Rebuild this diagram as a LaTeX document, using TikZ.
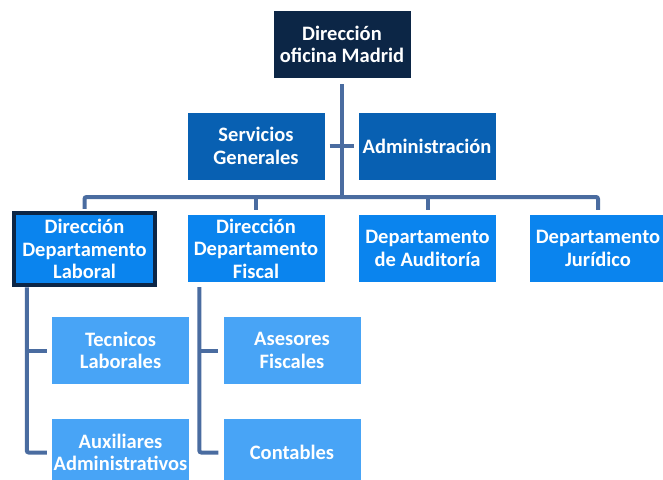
\documentclass[tikz,border=0pt]{standalone}
\usepackage{fontspec}
\setmainfont{Carlito}
\usepackage{tikz}
\definecolor{navy}{HTML}{0C2646}
\definecolor{staffblue}{HTML}{0860B2}
\definecolor{deptblue}{HTML}{0A84EE}
\definecolor{unitblue}{HTML}{48A4F6}
\definecolor{linkblue}{HTML}{4A6CA0}

\begin{document}
\begin{tikzpicture}[x = 1pt, y = -1pt,
                        box/.style = {rectangle, minimum width = 137pt, minimum height = 67pt, inner sep = 0pt,
                                      align = center, text = white, font = \fontsize{20.5}{22.5}\selectfont\bfseries},
                        chief/.style = {box, fill = navy},
                        staff/.style = {box, fill = staffblue},
                        dept/.style = {box, fill = deptblue},
                        unit/.style = {box, fill = unitblue},
                        link/.style = {draw = linkblue, line width = 4pt, rounded corners = 2pt}]
      \useasboundingbox (0, 0) rectangle (663, 479);
      \node [chief] (madrid) at (342, 44.5){Dirección\\oficina Madrid};
      \node [staff] (servicios) at (256, 146){Servicios\\Generales};
      \node [staff] (admin) at (427, 146){Administración};
      \node [dept, draw = navy, line width = 4.5pt, minimum width = 141pt, minimum height = 72pt] (laboral) at (84.5, 249){Dirección\\Departamento\\Laboral};
      \node [dept] (fiscal) at (256, 248.5){Dirección\\Departamento\\Fiscal};
      \node [dept] (auditoria) at (427.5, 248.5){Departamento\\de Auditoría};
      \node [dept] (juridico) at (598, 248.5){Departamento\\Jurídico};
      \node [unit] (tecnicos) at (120.5, 350.5){Tecnicos\\Laborales};
      \node [unit] (auxiliares) at (120.5, 452.5){Auxiliares\\Administrativos};
      \node [unit] (asesores) at (292, 350.5){Asesores\\Fiscales};
      \node [unit] (contables) at (292, 452.5){Contables};
      \coordinate (bus) at (342, 197);
      \coordinate (ltrunk) at ([xshift = 15pt]laboral.south west);
      \coordinate (ftrunk) at ([shift = {(12pt, -5pt)}]fiscal.south west);
      \draw [link] ([yshift = -6pt]madrid.south) -- (bus);
      \draw [link] ([xshift = 5pt]servicios.east) -- ([xshift = -4pt]admin.west);
      \draw [link] ([yshift = 2pt]laboral.north) |- (bus) -| ([yshift = 5pt]juridico.north);
      \draw [link] ([yshift = 5pt]fiscal.north) -- (fiscal.north |- bus);
      \draw [link] ([yshift = 5pt]auditoria.north) -- (auditoria.north |- bus);
      \draw [link] (ltrunk) |- ([xshift = -5pt]auxiliares.west);
      \draw [link] (ltrunk |- tecnicos.west) -- ([xshift = -5pt]tecnicos.west);
      \draw [link] (ftrunk) |- ([xshift = -5pt]contables.west);
      \draw [link] (ftrunk |- asesores.west) -- ([xshift = -5pt]asesores.west);

      \end{tikzpicture}
\end{document}
